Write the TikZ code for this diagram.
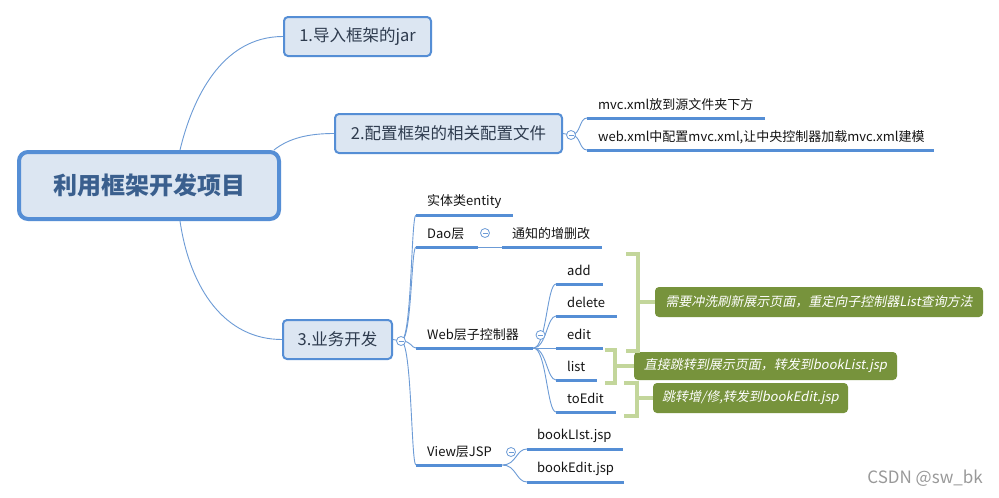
\documentclass[tikz,border=0pt]{standalone}
\usepackage{fontspec}
\setmainfont{Noto Sans CJK SC}
\newfontfamily\noteit[FakeSlant=0.2]{Noto Sans CJK SC}
\definecolor{boxc}{HTML}{558ED5}
\definecolor{boxfill}{HTML}{DCE6F2}
\definecolor{boxtext}{HTML}{2E3B4E}
\definecolor{titlec}{HTML}{3A5F8E}
\definecolor{connc}{HTML}{6C9BD6}
\definecolor{ulc}{HTML}{558ED5}
\definecolor{brkc}{HTML}{C3D69B}
\definecolor{notec}{HTML}{77933C}
\tikzset{
  conn/.style={draw=connc, line width=0.9pt},
  uline/.style={draw=ulc, line width=3pt},
  leaf/.style={anchor=south west, inner xsep=0pt, inner ysep=0pt, minimum height=26pt,
    align=left, font=\fontsize{13}{15}\selectfont, text=black!92,
    append after command={(\tikzlastnode.south west) edge[uline] (\tikzlastnode.south east)}},
  box/.style={draw=boxc, fill=boxfill, line width=2pt, rounded corners=4pt,
    font=\fontsize{16.5}{20}\selectfont, text=boxtext, inner sep=0pt},
  mainbox/.style={draw=boxc, fill=boxfill, line width=4pt, rounded corners=9pt,
    font=\bfseries\fontsize{24}{28}\selectfont, text=titlec, inner sep=0pt},
  fold/.style={circle, draw=connc, fill=white, line width=0.8pt, minimum size=9pt, inner sep=0pt,
    path picture={\draw[connc, line width=0.8pt] ([xshift=-2.5pt]path picture bounding box.center) -- ([xshift=2.5pt]path picture bounding box.center);}},
  brk/.style={draw=brkc, line width=4pt, line join=miter},
  note/.style={fill=notec, rounded corners=4pt, text=white, inner sep=0pt,
    font=\noteit\fontsize{13}{15}\selectfont},
}
\begin{document}
\begin{tikzpicture}[x=1pt,y=-1pt]
\useasboundingbox[fill=white] (0,0) rectangle (999,498);

% main boxes
\node[mainbox, minimum width=260pt, minimum height=67pt] (root) at (149,185.5) {利用框架开发项目};
\node[box, minimum width=147pt, minimum height=39pt] (b1) at (357.5,36.5) {1.导入框架的jar};
\node[box, minimum width=227pt, minimum height=39pt] (b2) at (448.5,133.5) {2.配置框架的相关配置文件};
\node[box, minimum width=109pt, minimum height=39pt] (b3) at (337.5,339.5) {3.业务开发};

% leaves
\node[leaf, text width=178pt] (m1) at (587,118) {\hspace*{11pt}mvc.xml放到源文件夹下方};
\node[leaf, text width=347pt] (m2) at (587,150) {\hspace*{11pt}web.xml中配置mvc.xml,让中央控制器加载mvc.xml建模};
\node[leaf, text width=97pt] (e1) at (416,215) {\hspace*{11pt}实体类entity};
\node[leaf, text width=62pt] (d1) at (416,247) {\hspace*{11pt}Dao层};
\node[leaf, text width=100pt] (d2) at (502,247) {\hspace*{10pt}通知的增删改};
\node[leaf, text width=117pt] (w) at (416,348) {\hspace*{11pt}Web层子控制器};
\node[leaf, text width=47pt] (a) at (556,284) {\hspace*{11pt}add};
\node[leaf, text width=61pt] (del) at (556,316) {\hspace*{11pt}delete};
\node[leaf, text width=47pt] (ed) at (556,348) {\hspace*{11pt}edit};
\node[leaf, text width=41pt] (li) at (556,380) {\hspace*{11pt}list};
\node[leaf, text width=60pt] (te) at (556,412) {\hspace*{11pt}toEdit};
\node[leaf, text width=86pt] (v) at (416,465) {\hspace*{11pt}View层JSP};
\node[leaf, text width=96pt] (bl) at (527,449) {\hspace*{10pt}bookLIst.jsp};
\node[leaf, text width=97pt] (be) at (527,482) {\hspace*{10pt}bookEdit.jsp};

% main connectors
\draw[conn] ([xshift=31pt]root.north) .. controls +(12,-50) and +(-62,0) .. (b1.west);
\draw[conn] ([xshift=-7pt]root.north east) .. controls +(15,-12) and +(-25,0) .. (b2.west);
\draw[conn] ([xshift=31pt]root.south) .. controls +(10,68) and +(-57,0) .. (b3.west);

% fold buttons (positions)
\coordinate (f2p) at (571,135);
\coordinate (f3p) at (401,341);

% branch 2
\draw[conn] (b2.east) -- (f2p);
\draw[conn] (f2p) .. controls +(10,0) and +(-8,0) .. (m1.south west);
\draw[conn] (f2p) .. controls +(10,0) and +(-8,0) .. (m2.south west);

% branch 3
\draw[conn] (b3.east) -- (f3p);
\foreach \t in {e1,d1,w,v}
  \draw[conn] (f3p) .. controls +(11,0) and +(-5,0) .. (\t.south west);
\draw[conn] (d1.south east) -- (d2.south west);
\draw[conn] (w.south east) -- (ed.south west);
\foreach \t in {a,del,li,te}
  \draw[conn] (w.south east) .. controls +(13,0) and +(-9,0) .. (\t.south west);
\foreach \t in {bl,be}
  \draw[conn] (v.south east) .. controls +(14,0) and +(-11,0) .. (\t.south west);

% fold buttons
\node[fold] (f2) at (f2p) {};
\node[fold] (f3) at (f3p) {};
\node[fold] (fd) at (485,233) {};
\node[fold] (fw) at (540.5,335) {};
\node[fold] (fv) at (511,452) {};

% notes
\node[note, minimum width=328pt, minimum height=30pt] (n1) at (819,302) {需要冲洗刷新展示页面，重定向子控制器List查询方法};
\node[note, minimum width=263pt, minimum height=28pt] (n2) at (765.5,366) {直接跳转到展示页面，转发到bookList.jsp};
\node[note, minimum width=195pt, minimum height=30pt] (n3) at (750.5,398) {跳转增/修,转发到bookEdit.jsp};

% brackets
\draw[brk] (626,254) -- (638,254) -- (638,351) -- (626,351);
\draw[brk] (638,302) -- (n1.west);
\draw[brk] (605,350) -- (615,350) -- (615,383) -- (605,383);
\draw[brk] (615,366) -- (n2.west);
\draw[brk] (624,383) -- (637,383) -- (637,416) -- (624,416);
\draw[brk] (637,398) -- (n3.west);

% watermark
\node[anchor=east, inner sep=0pt, text=black!40, font=\fontsize{17}{20}\selectfont] (wm) at (983,478) {CSDN @sw\_bk};
\end{tikzpicture}
\end{document}
